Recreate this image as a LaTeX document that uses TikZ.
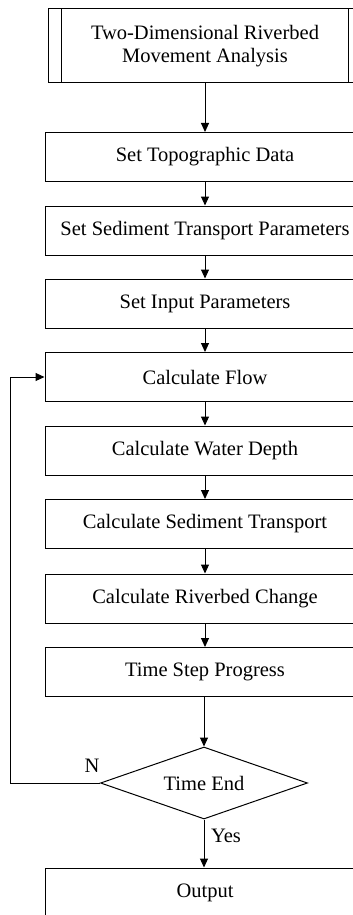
\documentclass[tikz,border=0pt]{standalone}
\usepackage{fontspec}
\setmainfont{Liberation Serif}
\usetikzlibrary{shapes.geometric,arrows.meta}
\begin{document}
\begin{tikzpicture}[x=1pt,y=-1pt,
  stepbox/.style={draw, line width=1pt, minimum width=320pt, minimum height=49pt, inner sep=0pt, font=\fontsize{20.5}{24}\selectfont},
  decision/.style={draw, line width=1pt, diamond, aspect=2.875, minimum width=207pt, minimum height=72pt, inner sep=0pt, font=\fontsize{20.5}{24}\selectfont},
  flow/.style={line width=1pt, -{Triangle[length=9pt,width=8pt]}},
  lbl/.style={font=\fontsize{20.5}{24}\selectfont, inner sep=0pt}]
\useasboundingbox (0,0) rectangle (353,915);
\clip (0,0) rectangle (353,915);
\node[stepbox, minimum width=314pt, minimum height=74pt, align=center, font=\fontsize{20.5}{23}\selectfont] (start) at (205,46) {Two-Dimensional Riverbed\\Movement Analysis};
\draw[line width=1pt] ([xshift=14pt]start.north west) -- ([xshift=14pt]start.south west);
\draw[line width=1pt] ([xshift=-14pt]start.north east) -- ([xshift=-14pt]start.south east);
\node[stepbox] (topo) at (205,157) {Set Topographic Data};
\node[stepbox] (sed) at (205,230.5) {Set Sediment Transport Parameters};
\node[stepbox] (input) at (205,303.5) {Set Input Parameters};
\node[stepbox] (cflow) at (205,377) {Calculate Flow};
\node[stepbox] (depth) at (205,450.5) {Calculate Water Depth};
\node[stepbox] (trans) at (205,524) {Calculate Sediment Transport};
\node[stepbox] (bed) at (205,598.5) {Calculate Riverbed Change};
\node[stepbox] (tstep) at (205,672) {Time Step Progress};
\node[decision] (tend) at (204,783) {Time End};
\node[stepbox] (out) at (205,892.5) {Output};
\draw[flow] (start) -- (topo);
\draw[flow] (topo) -- (sed);
\draw[flow] (sed) -- (input);
\draw[flow] (input) -- (cflow);
\draw[flow] (cflow) -- (depth);
\draw[flow] (depth) -- (trans);
\draw[flow] (trans) -- (bed);
\draw[flow] (bed) -- (tstep);
\draw[flow] (tstep.south -| tend.north) -- (tend.north);
\draw[flow] (tend.south) -- (tend.south |- out.north);
\coordinate (lp) at (10,783);
\draw[flow] (tend.west) -- (lp) |- (cflow.west);
\node[lbl] (nlab) at (92,766) {N};
\node[lbl] (ylab) at (226,836) {Yes};
\end{tikzpicture}
\end{document}
